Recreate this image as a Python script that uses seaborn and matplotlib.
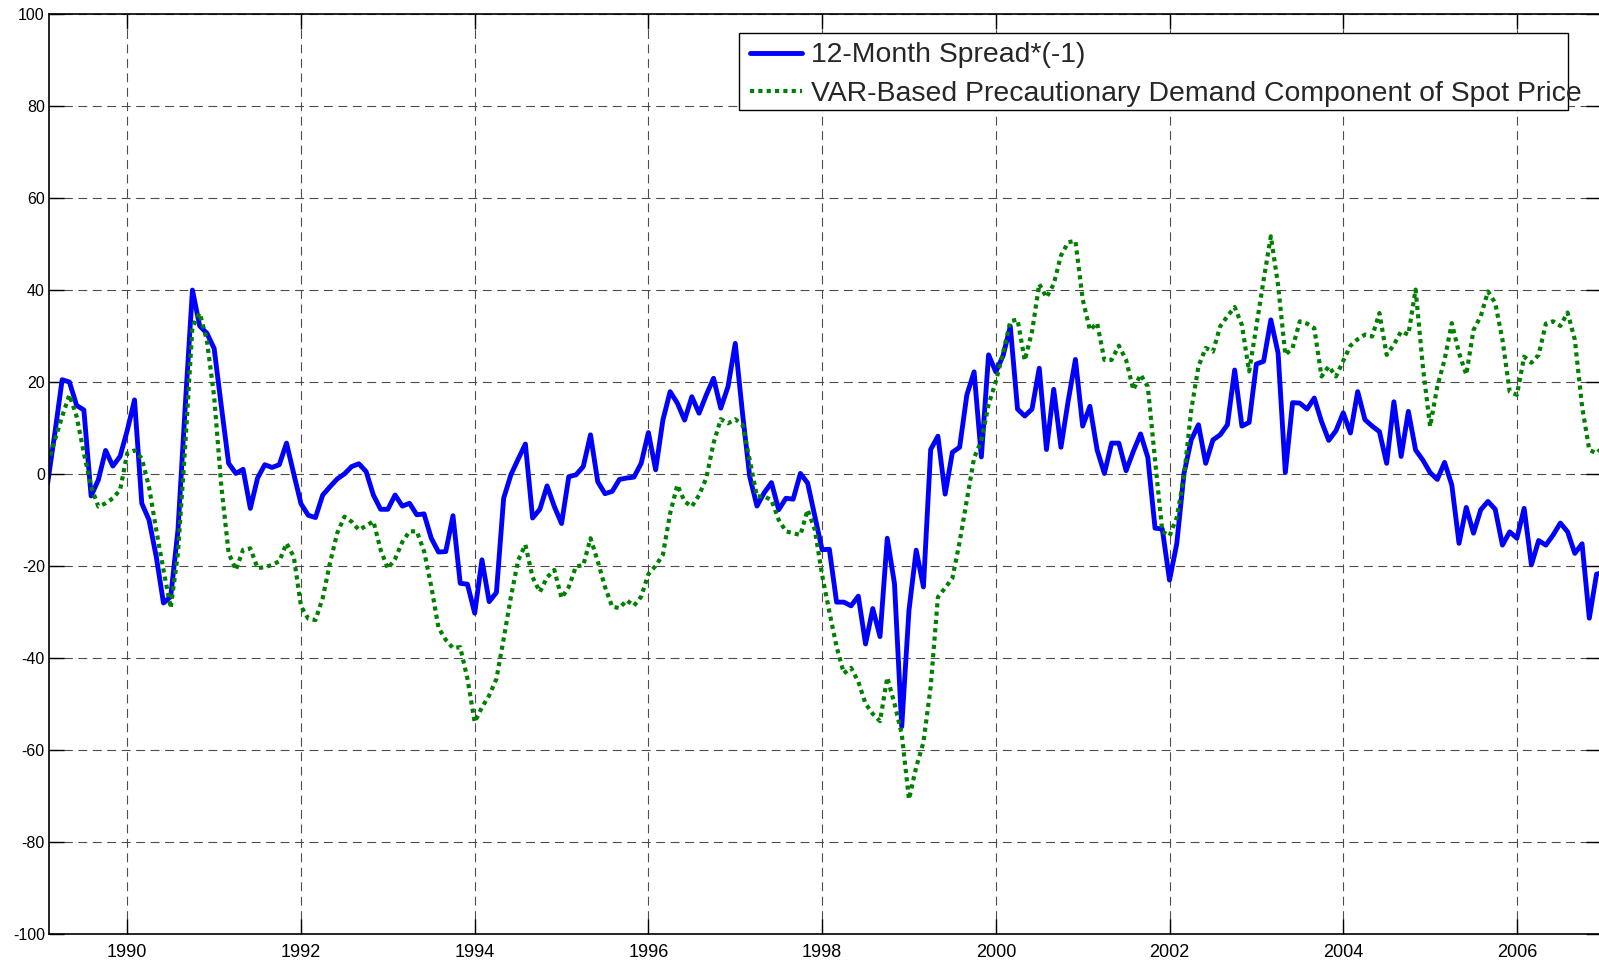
import numpy as np
import pandas as pd
import matplotlib
matplotlib.use("Agg")
import matplotlib.pyplot as plt
from matplotlib.patches import Rectangle
import seaborn as sns

# monthly, Feb 1989 .. Jan 2007
months = pd.date_range("1989-02-01", "2007-01-01", freq="MS")
year_frac = months.year + (months.month - 1) / 12

spread = [
    -2, 9, 20.5, 20, 14.9, 13.9, -4.8, -1.3, 5.1, 1.7, 3.8,                          # 1989
    9.5, 16.1, -6.4, -10, -18, -28.1, -26.7, -12.2, 14.6, 40, 32.2, 30.6,            # 1990
    27.3, 14.6, 2.3, 0.1, 1.0, -7.5, -0.9, 2, 1.4, 2, 6.7, 0,                        # 1991
    -6.5, -9, -9.5, -4.6, -2.8, -1.1, 0, 1.6, 2.2, 0.5, -4.6, -7.7,                  # 1992
    -7.7, -4.6, -7, -6.4, -8.9, -8.7, -14, -17, -16.9, -9.1, -23.8, -24,             # 1993
    -30.3, -18.7, -27.8, -25.8, -5.3, -0.2, 3.2, 6.5, -9.6, -7.7, -2.6, -7.1,        # 1994
    -10.8, -0.6, -0.2, 1.6, 8.5, -1.7, -4.3, -3.8, -1.2, -0.9, -0.7, 2.3,            # 1995
    9, 0.9, 11.7, 17.9, 15.4, 11.7, 16.8, 13.2, 17.2, 20.8, 14.3, 19,                # 1996
    28.4, 13.2, -0.6, -7, -4.1, -1.9, -7.8, -5.3, -5.5, 0.1, -2, -9.3,               # 1997
    -16.5, -16.4, -27.9, -27.9, -28.7, -26.6, -37, -29.3, -35.4, -14, -23.9, -55,    # 1998
    -29.7, -16.6, -24.6, 5.3, 8.2, -4.4, 4.7, 5.8, 17.2, 22.2, 3.7, 25.9,            # 1999
    22.2, 25.7, 32.1, 14.1, 12.6, 14.1, 23, 5.3, 18.4, 5.8, 15.9, 24.9,              # 2000
    10.4, 14.7, 5.2, 0.1, 6.7, 6.7, 0.7, 4.9, 8.7, 3.6, -11.8, -12,                  # 2001
    -23.1, -15.2, 0.1, 7.4, 10.7, 2.3, 7.4, 8.5, 10.7, 22.6, 10.4, 11.2,             # 2002
    23.9, 24.5, 33.5, 26.3, 0.3, 15.5, 15.4, 14.1, 16.5, 11.4, 7.3, 9.4,             # 2003
    13.3, 8.9, 17.9, 11.8, 10.4, 9.2, 2.3, 15.7, 3.8, 13.6, 5.2, 3,                  # 2004
    0.3, -1.2, 2.5, -2.4, -15.1, -7.3, -12.9, -7.8, -6, -7.7, -15.5, -12.6,          # 2005
    -14, -7.5, -19.8, -14.5, -15.5, -13.3, -10.7, -12.6, -17.3, -15.2, -31.4, -21.8, # 2006
    -21.5,                                                                           # 2007
]

var_precaution = [
    2.3, 7.4, 12.5, 17.2, 12.5, 4.5, -2.8, -7.1, -6.4, -5.3, -3.5,                   # 1989
    4.5, 5.1, 3.4, -2.8, -12.2, -20.9, -29.2, -17.2, 6, 32, 35, 29,                  # 1990
    16.8, -2.8, -17.2, -20.9, -16.5, -16.2, -20.5, -20.3, -19.8, -19, -15.1, -18,    # 1991
    -28.8, -31.5, -31.8, -27, -19.4, -12.9, -9.3, -10.4, -12.2, -11.3, -10.3, -16.5, # 1992
    -20.6, -18.5, -14.8, -12.5, -12.5, -16.8, -24.5, -33.5, -36.1, -37.9, -37.7, -44.6,  # 1993
    -54, -50.8, -48.2, -44.6, -35.9, -26.8, -18.8, -15.4, -22.5, -25.7, -22.5, -20.9,    # 1994
    -27, -24.6, -20.1, -19.9, -14, -19, -24.6, -28.9, -29.2, -27.5, -28.7, -26.7,        # 1995
    -21.8, -20, -17.6, -8.6, -2.4, -6, -7.1, -4.6, -0.9, 6.7, 11.9, 11,                  # 1996
    11.9, 10.7, 3, -4.9, -4.9, -5.7, -10, -12.5, -12.9, -13.3, -7.8, -12.2,              # 1997
    -22, -30, -37.6, -43.4, -42.2, -45.2, -50, -52.2, -53.8, -44.3, -50, -56.6,          # 1998
    -70.8, -63.8, -58.4, -46.3, -26.8, -24.8, -22.7, -14.8, -5.6, 3.5, 7.2, 15.1,        # 1999
    20.1, 26.3, 33.2, 33.6, 24.7, 30.9, 41.3, 38.4, 41.3, 47.5, 50.4, 50.7,              # 2000
    38, 31.3, 32.8, 24.8, 24.8, 27.9, 24.8, 18.3, 21.6, 19, 3, -12.5,                    # 2001
    -13.5, -9.5, -0.6, 13.9, 23.4, 27.4, 26.6, 32.1, 34.3, 36.3, 32.4, 22.3,             # 2002
    32.1, 42.2, 51.7, 41.1, 25.9, 27.4, 33.2, 32.7, 31.7, 21.2, 23.4, 21.2,              # 2003
    24.6, 27.9, 29.3, 30.3, 29.9, 35, 25.9, 28.1, 31, 30.3, 40.1, 23.4,                  # 2004
    10.3, 19, 24.8, 32.8, 26.3, 21.6, 31.3, 34.3, 39.7, 37.2, 29.2, 17.9,                # 2005
    17.2, 25.5, 24.2, 25.9, 32.7, 33.2, 32.2, 35.1, 29.2, 14.7, 5.2, 4.5,                # 2006
    6,                                                                                   # 2007
]

label_spread = "12-Month Spread*(-1)"
label_var = "VAR-Based Precautionary Demand Component of Spot Price"

assert len(spread) == len(year_frac) == len(var_precaution)

sns.set_style("ticks")
plt.rcParams["font.family"] = ["Liberation Sans", "DejaVu Sans"]
plt.rcParams["axes.unicode_minus"] = False

W, H = 1599, 961
fig = plt.figure(figsize=(W / 100, H / 100), dpi=100)
ax = fig.add_axes([49 / W, 1 - 933.5 / H, 1552 / W, (933.5 - 14.3) / H])

sns.lineplot(x=year_frac, y=spread, ax=ax, color="#0000ff", lw=3.5,
             estimator=None, label=label_spread)
sns.lineplot(x=year_frac, y=var_precaution, ax=ax, color="#008000", lw=3.0,
             linestyle=(0, (1, 1)), estimator=None, label=label_var)

ax.set_xlim(1989.0985, 2006.968)
ax.set_ylim(-100, 100)
ax.set_xticks(range(1990, 2007, 2))
ax.set_yticks(range(-100, 101, 20))
ax.set_xlabel("")
ax.set_ylabel("")

for s in ax.spines.values():
    s.set_visible(True)
    s.set_linewidth(1.2)
    s.set_color("black")

ax.tick_params(direction="in", length=11, width=1.0, top=True, right=True, colors="black")
ax.tick_params(axis="y", labelsize=11.5, pad=3)
ax.tick_params(axis="x", labelsize=13, pad=7.4)
ax.grid(True, color="0.3", linestyle=(0, (8, 5)), linewidth=0.8)
ax.set_axisbelow(True)

# legend text runs a bit past its box in the original, so frame drawn separately
leg = ax.legend(loc="upper left", bbox_to_anchor=(749.5 / W, 1 - 42.5 / H),
                bbox_transform=fig.transFigure, borderaxespad=0, borderpad=0,
                fontsize=20.4, frameon=False, handlelength=1.87,
                handletextpad=0.3, labelspacing=0.43)
leg.set_zorder(6)
box = Rectangle((739 / W, 1 - 110 / H), (1568 - 739) / W, (110 - 32.6) / H,
                transform=fig.transFigure, facecolor="white", edgecolor="black",
                lw=1.0, zorder=5, clip_on=False)
ax.add_artist(box)

fig.savefig("out.png", dpi=100)
